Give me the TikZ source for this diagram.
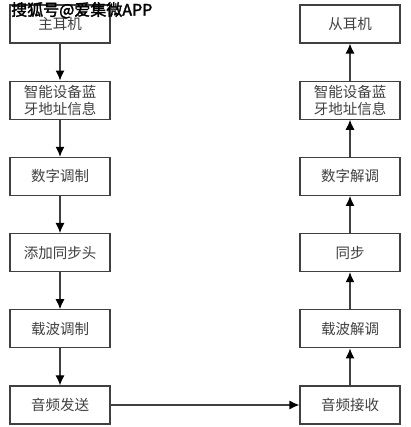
\documentclass[tikz,border=0pt]{standalone}
\usepackage{fontspec}
\newfontfamily\cjk{Noto Sans CJK SC}
\newfontfamily\markfont[FakeBold=2]{Noto Sans CJK SC}
\usetikzlibrary{positioning,arrows.meta}

\begin{document}
\begin{tikzpicture}[x=1pt,y=1pt,
    box/.style={draw=black!75,line width=1.2pt,minimum width=100pt,minimum height=38pt,
        inner sep=2pt,align=center,text=black!75,font=\cjk\fontsize{14.5}{17}\selectfont},
    flow/.style={draw=black!75,line width=1.2pt,-{Latex[length=10pt,width=9pt,color=black]}},
    node distance=37pt]
    \useasboundingbox (0,0) rectangle (410,427);
    % sending side
    \node[box] (zhu) at (60,403) {主耳机};
    \node[box,below=of zhu] (addrL) {智能设备蓝\\牙地址信息};
    \node[box,below=of addrL] (dmod) {数字调制};
    \node[box,below=of dmod] (sync) {添加同步头};
    \node[box,below=of sync] (cmod) {载波调制};
    \node[box,below=of cmod] (send) {音频发送};
    % receiving side
    \node[box] (cong) at (350,403) {从耳机};
    \node[box,below=of cong] (addrR) {智能设备蓝\\牙地址信息};
    \node[box,below=of addrR] (ddem) {数字解调};
    \node[box,below=of ddem] (tongbu) {同步};
    \node[box,below=of tongbu] (cdem) {载波解调};
    \node[box,below=of cdem] (recv) {音频接收};
    % arrows
    \draw[flow] (zhu) -- (addrL);
    \draw[flow] (addrL) -- (dmod);
    \draw[flow] (dmod) -- (sync);
    \draw[flow] (sync) -- (cmod);
    \draw[flow] (cmod) -- (send);
    \draw[flow] (send) -- (recv);
    \draw[flow] (recv) -- (cdem);
    \draw[flow] (cdem) -- (tongbu);
    \draw[flow] (tongbu) -- (ddem);
    \draw[flow] (ddem) -- (addrR);
    \draw[flow] (addrR) -- (cong);
    % watermark
    \node[anchor=north west,inner sep=0pt,font=\markfont\fontsize{16}{18}\selectfont] (mark) at (11,425) {搜狐号@爱集微APP};
\end{tikzpicture}
\end{document}
